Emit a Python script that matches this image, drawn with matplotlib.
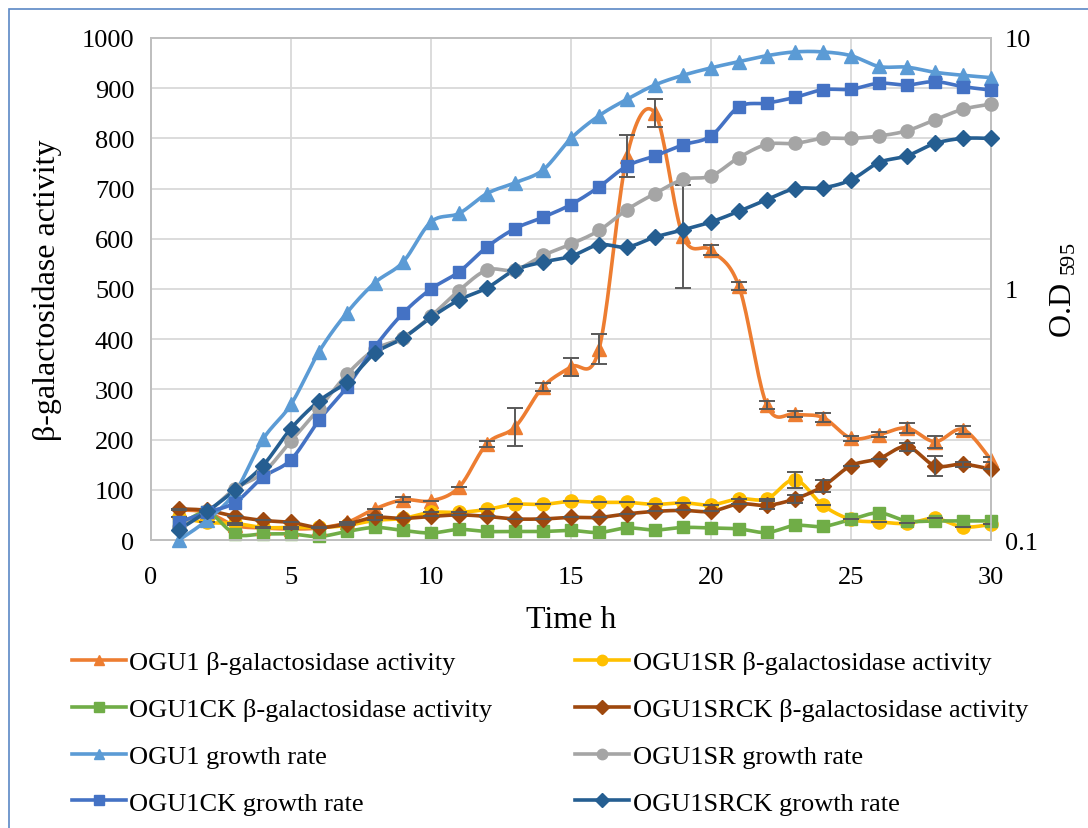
import numpy as np
import matplotlib.pyplot as plt
from matplotlib.lines import Line2D
from matplotlib.patches import Rectangle

plt.rcParams['font.family'] = 'Liberation Serif'
plt.rcParams['mathtext.fontset'] = 'custom'
plt.rcParams['mathtext.rm'] = 'Liberation Serif'
plt.rcParams['mathtext.default'] = 'regular'

hours = list(range(1, 31))

# beta-galactosidase activity (left axis)
ogu1_act = [60, 55, 29, 24, 22, 24, 35, 62, 80, 78, 105, 192, 225, 305, 345,
            380, 765, 850, 605, 577, 505, 268, 251, 244, 203, 210, 223, 196, 220, 160]
ogu1_err = [0, 0, 0, 0, 0, 0, 0, 0, 5, 0, 0, 6, 37, 8, 18,
            30, 42, 28, 103, 10, 8, 8, 5, 8, 5, 5, 10, 12, 8, 5]
ogu1sr_act = [45, 35, 33, 25, 25, 25, 29, 39, 43, 55, 55, 61, 71, 71, 77,
              75, 75, 71, 74, 70, 82, 82, 120, 69, 41, 36, 33, 43, 26, 31]
ogu1sr_err = [0, 0, 0, 0, 0, 0, 0, 0, 0, 0, 0, 0, 0, 0, 0,
              0, 0, 0, 0, 0, 0, 0, 16, 0, 0, 0, 0, 0, 0, 0]
ogu1ck_act = [28, 55, 12, 12, 12, 7, 17, 25, 19, 14, 21, 17, 17, 17, 19,
              15, 24, 20, 25, 24, 22, 15, 29, 27, 41, 54, 38, 38, 38, 38]
ogu1srck_act = [62, 59, 47, 39, 35, 25, 32, 45, 43, 47, 50, 47, 42, 42, 45,
                45, 52, 57, 59, 57, 72, 69, 82, 107, 148, 162, 186, 148, 151, 141]
ogu1srck_err = [0, 0, 0, 0, 0, 0, 0, 5, 0, 0, 0, 0, 0, 0, 0,
                0, 0, 0, 0, 0, 0, 8, 8, 12, 0, 0, 8, 20, 5, 0]

# growth, O.D 595 (right axis, log)
ogu1_od = [0.100, 0.120, 0.155, 0.252, 0.347, 0.562, 0.805, 1.06, 1.28, 1.85,
           2.00, 2.40, 2.65, 2.98, 3.98, 4.90, 5.70, 6.50, 7.10, 7.60,
           8.05, 8.50, 8.80, 8.80, 8.50, 7.70, 7.65, 7.30, 7.10, 6.95]
ogu1sr_od = [0.113, 0.129, 0.160, 0.185, 0.248, 0.334, 0.457, 0.575, 0.64, 0.78,
             0.986, 1.19, 1.19, 1.36, 1.51, 1.71, 2.07, 2.40, 2.73, 2.82,
             3.34, 3.77, 3.80, 3.98, 3.98, 4.07, 4.27, 4.72, 5.20, 5.45]
ogu1ck_od = [0.118, 0.129, 0.141, 0.178, 0.209, 0.300, 0.407, 0.589, 0.80, 1.00,
             1.17, 1.47, 1.74, 1.93, 2.17, 2.55, 3.09, 3.39, 3.75, 4.07,
             5.32, 5.50, 5.80, 6.22, 6.25, 6.60, 6.50, 6.70, 6.40, 6.20]
ogu1srck_od = [0.110, 0.130, 0.158, 0.198, 0.278, 0.358, 0.427, 0.555, 0.637, 0.77,
               0.904, 1.01, 1.19, 1.28, 1.35, 1.50, 1.47, 1.61, 1.72, 1.85,
               2.04, 2.27, 2.51, 2.53, 2.72, 3.19, 3.39, 3.80, 3.98, 3.98]

y_ticks = list(range(0, 1001, 100))
x_ticks = [0, 5, 10, 15, 20, 25, 30]


def smooth(x, y, n=20):
    # excel style smoothed line (uniform catmull-rom)
    x = np.asarray(x, float)
    y = np.asarray(y, float)
    px = np.concatenate([[x[0]], x, [x[-1]]])
    py = np.concatenate([[y[0]], y, [y[-1]]])
    t = np.linspace(0, 1, n, endpoint=False)
    xs, ys = [], []
    for i in range(len(x) - 1):
        for p, out in ((px, xs), (py, ys)):
            p0, p1, p2, p3 = p[i], p[i + 1], p[i + 2], p[i + 3]
            out.append(0.5 * (2 * p1 + (-p0 + p2) * t
                              + (2 * p0 - 5 * p1 + 4 * p2 - p3) * t ** 2
                              + (-p0 + 3 * p1 - 3 * p2 + p3) * t ** 3))
    xs.append([x[-1]])
    ys.append([y[-1]])
    return np.concatenate(xs), np.concatenate(ys)


fig = plt.figure(figsize=(10.88, 8.29), dpi=100)
ax = fig.add_axes([0.1388, 0.3474, 0.772, 0.6056])
ax2 = ax.twinx()

lw = 2.6
ms = 9.5
handles = {}


def draw(a, y, color, marker, label, err=None, log=False, msz=ms):
    if log:
        sx, sy = smooth(hours, np.log10(y))
        sy = 10 ** sy
    else:
        sx, sy = smooth(hours, y)
    a.plot(sx, sy, color=color, lw=lw, solid_capstyle='round', zorder=3, clip_on=False)
    a.plot(hours, y, ls='none', marker=marker, ms=msz, color=color, zorder=4, clip_on=False)
    if err is not None:
        a.errorbar(hours, y, yerr=err, fmt='none', ecolor='#595959', elinewidth=1.4,
                   capsize=6, capthick=1.4, zorder=5)
    handles[label] = Line2D([], [], color=color, lw=lw, marker=marker, ms=7.5)


draw(ax, ogu1_act, '#ED7D31', '^', u'OGU1 \u03b2-galactosidase activity', ogu1_err, msz=10.5)
draw(ax, ogu1sr_act, '#FFC000', 'o', u'OGU1SR \u03b2-galactosidase activity', ogu1sr_err)
draw(ax, ogu1ck_act, '#70AD47', 's', u'OGU1CK \u03b2-galactosidase activity', msz=9)
draw(ax, ogu1srck_act, '#9E480E', 'D', u'OGU1SRCK \u03b2-galactosidase activity', ogu1srck_err, msz=8)

draw(ax2, ogu1_od, '#5B9BD5', '^', 'OGU1 growth rate', log=True, msz=10.5)
draw(ax2, ogu1sr_od, '#A5A5A5', 'o', 'OGU1SR growth rate', log=True)
draw(ax2, ogu1ck_od, '#4472C4', 's', 'OGU1CK growth rate', log=True, msz=9)
draw(ax2, ogu1srck_od, '#255E91', 'D', 'OGU1SRCK growth rate', log=True, msz=8)

ax.set_xlim(0, 30)
ax.set_ylim(0, 1000)
ax.set_xticks(x_ticks)
ax.set_yticks(y_ticks)
ax.grid(True, color='#D9D9D9', lw=1.3)
ax.set_axisbelow(True)
ax.tick_params(axis='both', labelsize=19, length=0)
ax.tick_params(axis='x', pad=19)
ax.tick_params(axis='y', pad=12)
for s in ax.spines.values():
    s.set_color('#BFBFBF')
    s.set_linewidth(1.3)

ax2.set_yscale('log')
ax2.set_ylim(0.1, 10)
ax2.set_yticks([0.1, 1, 10])
ax2.set_yticklabels(['0.1', '1', '10'])
ax2.minorticks_off()
ax2.tick_params(axis='y', labelsize=19, length=0, pad=10)
for s in ax2.spines.values():
    s.set_color('#BFBFBF')
    s.set_linewidth(1.3)

ax.set_xlabel('Time h', fontsize=23, labelpad=12)
ax.set_ylabel(u'\u03b2-galactosidase activity', fontsize=23, labelpad=14)
ax2.set_ylabel('O.D $_{595}$', fontsize=23, labelpad=8)

order = [u'OGU1 \u03b2-galactosidase activity', u'OGU1CK \u03b2-galactosidase activity',
         'OGU1 growth rate', 'OGU1CK growth rate',
         u'OGU1SR \u03b2-galactosidase activity', u'OGU1SRCK \u03b2-galactosidase activity',
         'OGU1SR growth rate', 'OGU1SRCK growth rate']
fig.legend([handles[k] for k in order], order, ncol=2, loc='upper left',
           bbox_to_anchor=(0.066, 0.2135), frameon=False, fontsize=19,
           handlelength=2.05, handletextpad=0.12, labelspacing=0.88,
           columnspacing=3.15, borderpad=0, borderaxespad=0)

fig.patches.append(Rectangle((9 / 1088, -0.1), 1.2, 1 - 10 / 829 + 0.1,
                             transform=fig.transFigure, fill=False,
                             edgecolor='#5B87C5', lw=1.2))

fig.savefig('out.png', dpi=100)
